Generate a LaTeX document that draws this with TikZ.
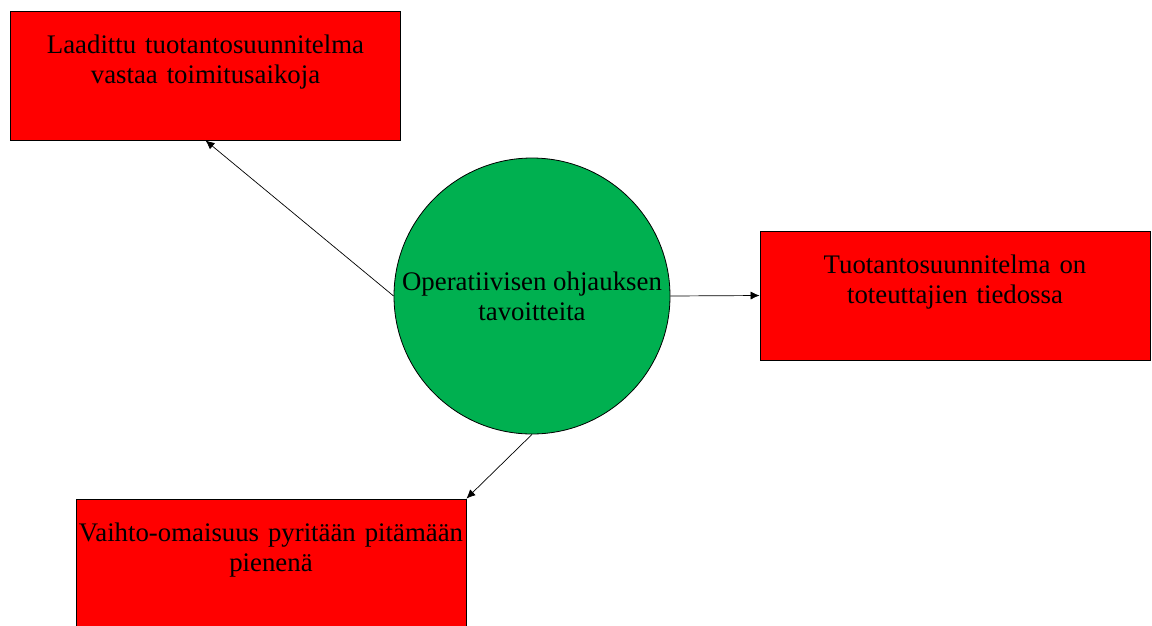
\documentclass[tikz,border=0pt]{standalone}
\usepackage{fontspec}
\setmainfont{Liberation Serif}
\usepackage{xcolor}
\usetikzlibrary{arrows.meta,positioning,shapes.geometric}
\definecolor{goalred}{RGB}{255,0,0}
\definecolor{goalgreen}{RGB}{0,176,80}

\begin{document}
\begin{tikzpicture}[x=1pt, y=-1pt, font=\fontsize{26.8}{30}\selectfont, every node/.style={inner sep=0pt}]
        \tikzset{
            goalbox/.style={draw, line width=0.8pt, fill=goalred, align=center, text width=386pt, minimum width=390pt, minimum height=129pt, text height=42pt, text depth=87pt},
            hub/.style={draw, circle, line width=0.8pt, fill=goalgreen, align=center, minimum size=276pt},
            arr/.style={-{Latex[length=9pt,width=8pt]}, line width=0.7pt}
        }
        \useasboundingbox (0,0) rectangle (1152,625);

        \node[hub] (goal) at (532,296) {Operatiivisen ohjauksen\\tavoitteita};
        \node[goalbox] (plan) at (205.5,75.5) {Laadittu tuotantosuunnitelma\\vastaa toimitusaikoja};
        \node[goalbox] (known) at (955,295.5) {Tuotantosuunnitelma on\\toteuttajien tiedossa};
        \node[goalbox] (stock) at (271,563.5) {Vaihto-omaisuus pyritään pitämään\\pienenä};

        \draw[arr] (goal.west) -- (plan.south);
        \draw[arr] (goal.east) -- (known.west);
        \draw[arr] (goal.south) -- (stock.north east);
    \end{tikzpicture}
\end{document}
